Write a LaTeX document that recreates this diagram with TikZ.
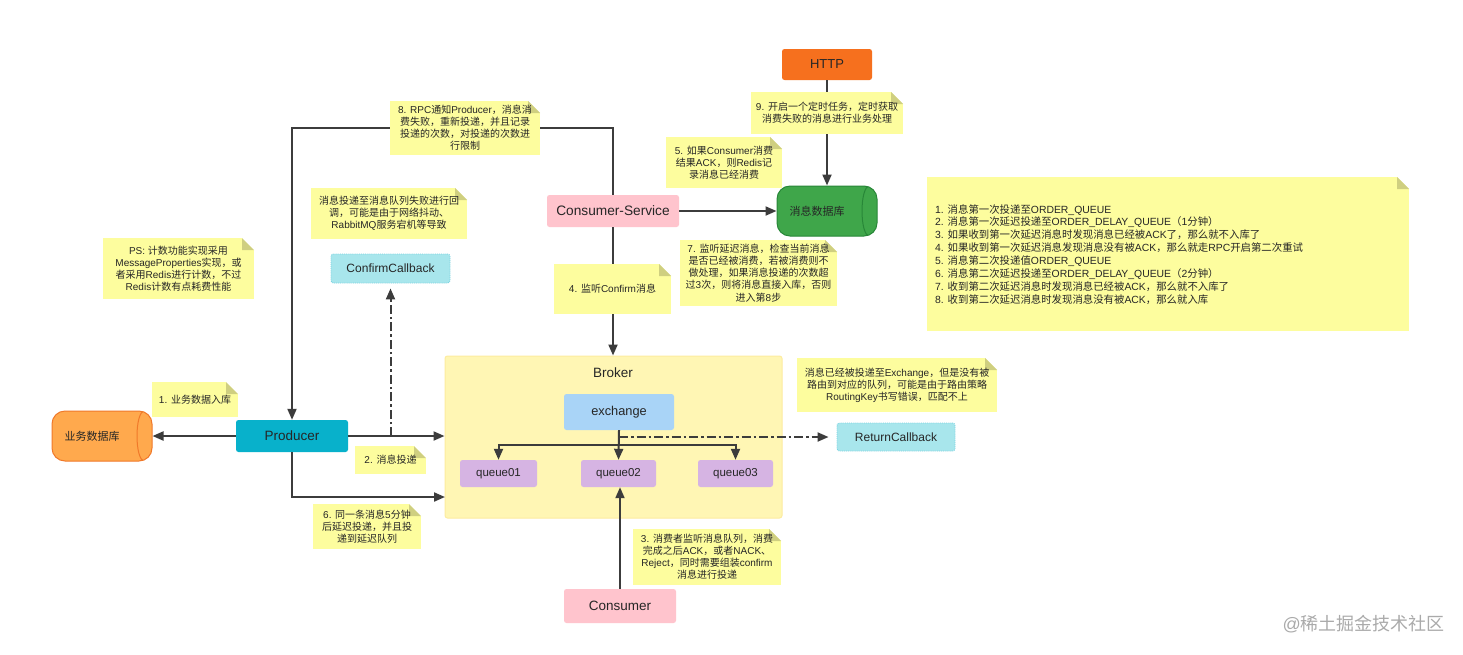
\documentclass[tikz,border=0pt]{standalone}
\usepackage{fontspec}
\setmainfont{Liberation Sans}
\newfontfamily\cjkf{Noto Sans CJK SC}
\usetikzlibrary{arrows.meta,calc}
% automatic font switching between Latin and CJK
\newXeTeXintercharclass\cjkclass
\makeatletter
\count@="3000 \loop\XeTeXcharclass\count@=\cjkclass \ifnum\count@<"30FF \advance\count@ 1 \repeat
\count@="4E00 \loop\XeTeXcharclass\count@=\cjkclass \ifnum\count@<"9FFF \advance\count@ 1 \repeat
\count@="FF00 \loop\XeTeXcharclass\count@=\cjkclass \ifnum\count@<"FFEF \advance\count@ 1 \repeat
\makeatother
\XeTeXinterchartoks 0 \cjkclass={\cjkf}
\XeTeXinterchartoks 4095 \cjkclass={\cjkf}
\XeTeXinterchartoks \cjkclass 0={\rmfamily}
\XeTeXinterchartoks \cjkclass 4095={\rmfamily}
\XeTeXinterchartokenstate=1
\definecolor{ink}{HTML}{3C3C3C}
\definecolor{txt}{HTML}{262626}
\definecolor{notebg}{HTML}{FDFD9E}
\definecolor{foldc}{HTML}{CFCF80}
\definecolor{bizedge}{RGB}{240,121,42}
\definecolor{bizfill}{RGB}{255,169,77}
\definecolor{msgedge}{RGB}{40,135,56}
\definecolor{msgfill}{RGB}{63,166,74}
\definecolor{brokerfill}{RGB}{255,246,180}
\definecolor{brokeredge}{RGB}{253,236,160}
\definecolor{httpfill}{RGB}{246,112,30}
\definecolor{pinkfill}{RGB}{255,196,205}
\definecolor{prodfill}{RGB}{8,177,203}
\definecolor{exfill}{RGB}{169,212,247}
\definecolor{queuefill}{RGB}{214,180,227}
\definecolor{cbfill}{RGB}{168,230,236}
\definecolor{cbedge}{RGB}{125,212,226}
\definecolor{markc}{RGB}{170,170,170}
\tikzset{
  conn/.style={draw=ink,line width=2pt},
  arr/.style={conn,-{Triangle[length=11pt,width=9pt]}},
  dashdot/.style={arr,dash pattern=on 9pt off 3pt on 2.5pt off 3pt},
  foldcorner/.style={path picture={
    \fill[white] ($(path picture bounding box.north east)+(-12,0)$) -- (path picture bounding box.north east) -- ($(path picture bounding box.north east)+(0,12)$) -- cycle;
    \fill[foldc] ($(path picture bounding box.north east)+(-12,0)$) -- ($(path picture bounding box.north east)+(-12,12)$) -- ($(path picture bounding box.north east)+(0,12)$) -- cycle;
  }},
  note/.style={fill=notebg,foldcorner,text=txt,inner sep=0pt,align=center,font=\fontsize{10}{12.1}\selectfont},
  bx/.style={rectangle,rounded corners=2.5pt,inner sep=0pt,align=center,text=txt,font=\fontsize{13.5}{15}\selectfont},
  callback/.style={bx,fill=cbfill,draw=cbedge,densely dotted,line width=.9pt,font=\fontsize{12}{14}\selectfont},
  queue/.style={bx,fill=queuefill,font=\fontsize{11.5}{13}\selectfont},
  dbcyl/.style={rectangle,rounded corners=13pt,draw=#1,line width=1pt,inner sep=0pt,minimum width=100pt,minimum height=50pt,text=txt,font=\fontsize{11}{13}\selectfont,
    path picture={\draw[#1,line width=1pt] ($(path picture bounding box.north east)+(-7.5,0)$) .. controls +(-10,0) and +(-10,0) .. ($(path picture bounding box.south east)+(-7.5,0)$);}},
}
\newcommand\notebox[6]{%
  \node[note,minimum width={(#4-#2)*1pt},minimum height={(#5-#3)*1pt}] (#1) at ({(#2+#4)/2},{(#3+#5)/2}) {#6};
}
\newcommand\boxnode[7][]{%
  \node[bx,#1,minimum width={(#5-#3)*1pt},minimum height={(#6-#4)*1pt}] (#2) at ({(#3+#5)/2},{(#4+#6)/2}) {#7};
}
\begin{document}
\begin{tikzpicture}[x=1pt,y=-1pt]
\useasboundingbox[fill=white] (0,0) rectangle (1463,654);
% main nodes
\boxnode[fill=brokerfill,draw=brokeredge,line width=1pt]{broker}{445}{356}{782}{518}{}
\node[text=txt,font=\fontsize{13.5}{15}\selectfont] (brokerlabel) at (613,373) {Broker};
\boxnode[fill=httpfill,font=\fontsize{13}{15}\selectfont]{http}{782}{49}{872}{80}{HTTP}
\boxnode[fill=pinkfill,font=\fontsize{13.7}{15}\selectfont]{cs}{547}{195}{679}{227}{Consumer-Service}
\boxnode[fill=prodfill]{prod}{236}{420}{348}{452}{Producer}
\boxnode[fill=pinkfill]{cons}{564}{589}{676}{623}{Consumer}
\boxnode[fill=exfill,font=\fontsize{12.8}{15}\selectfont]{ex}{564}{394}{674}{430}{exchange}
\boxnode[queue]{qa}{460}{460}{537}{487}{queue01}
\boxnode[queue]{qb}{581}{460}{656}{487}{queue02}
\boxnode[queue]{qc}{698}{460}{773}{487}{queue03}
\boxnode[callback]{cc}{331}{254}{450}{283}{ConfirmCallback}
\boxnode[callback]{rc}{837}{423}{955}{451}{ReturnCallback}
\node[dbcyl=bizedge,fill=bizfill] (bizdb) at (102,436) {业务数据库\hspace*{20pt}};
\node[dbcyl=msgedge,fill=msgfill] (msgdb) at (827,211) {消息数据库\hspace*{20pt}};
% free points of the connectors
\coordinate (toprow) at (292,128);
\coordinate (delay) at (445,497);
\coordinate (bus) at (619,445);
% connectors
\draw[arr] (cs.north) -- (cs.north |- toprow) -- (prod.north |- toprow) -- (prod.north);
\draw[arr] (cs.south) -- (cs.south |- broker.north);
\draw[arr] (cs.east) -- (msgdb.west);
\draw[arr] (http.south) -- (msgdb.north);
\draw[arr] (prod.west) -- (bizdb.east);
\draw[arr] (prod.east) -- (prod.east -| broker.west);
\draw[arr] (prod.south) |- (delay);
\draw[dashdot,shorten >=5pt] (cc.south |- prod.east) -- (cc.south);
\draw[arr] (ex.south) -- (qb.north);
\draw[arr] (bus) -| (qa.north);
\draw[arr] (bus) -| (qc.north);
\draw[dashdot,shorten >=8pt] (ex.south |- rc.west) -- (rc.west);
\draw[arr] (cons.north) -- (cons.north |- qb.south);
% notes
\notebox{nps}{103}{238}{254}{299}{PS: 计数功能实现采用\\MessageProperties实现，或\\者采用Redis进行计数，不过\\Redis计数有点耗费性能}
\notebox{nconf}{311}{188}{467}{239}{消息投递至消息队列失败进行回\\调，可能是由于网络抖动、\\RabbitMQ服务宕机等导致}
\notebox{none}{152}{382}{238}{417}{1. 业务数据入库}
\notebox{ntwo}{355}{446}{426}{474}{2. 消息投递}
\notebox{nsix}{313}{504}{421}{549}{6. 同一条消息5分钟\\后延迟投递，并且投\\递到延迟队列}
\notebox{neight}{390}{101}{540}{155}{8. RPC通知Producer，消息消\\费失败，重新投递，并且记录\\投递的次数，对投递的次数进\\行限制}
\notebox{nnine}{751}{92}{903}{134}{9. 开启一个定时任务，定时获取\\消费失败的消息进行业务处理}
\notebox{nfive}{666}{137}{782}{188}{5. 如果Consumer消费\\结果ACK，则Redis记\\录消息已经消费}
\notebox{nseven}{680}{240}{837}{306}{7. 监听延迟消息，检查当前消息\\是否已经被消费，若被消费则不\\做处理，如果消息投递的次数超\\过3次，则将消息直接入库，否则\\进入第8步}
\notebox{nfour}{554}{264}{671}{314}{4. 监听Confirm消息}
\notebox{nret}{797}{358}{997}{412}{消息已经被投递至Exchange，但是没有被\\路由到对应的队列，可能是由于路由策略\\RoutingKey书写错误，匹配不上}
\notebox{nthree}{633}{529}{781}{585}{3. 消费者监听消息队列，消费\\完成之后ACK，或者NACK、\\Reject，同时需要组装confirm\\消息进行投递}
\notebox{nlist}{927}{177}{1409}{331}{}
\node[anchor=north west,inner sep=0pt,align=left,text=txt,font=\fontsize{10.4}{12.9}\selectfont] (nlisttext) at (935,204) {1. 消息第一次投递至ORDER\_QUEUE\\2. 消息第一次延迟投递至ORDER\_DELAY\_QUEUE（1分钟）\\3. 如果收到第一次延迟消息时发现消息已经被ACK了，那么就不入库了\\4. 如果收到第一次延迟消息发现消息没有被ACK，那么就走RPC开启第二次重试\\5. 消息第二次投递值ORDER\_QUEUE\\6. 消息第二次延迟投递至ORDER\_DELAY\_QUEUE（2分钟）\\7. 收到第二次延迟消息时发现消息已经被ACK，那么就不入库了\\8. 收到第二次延迟消息时发现消息没有被ACK，那么就入库};
\node[anchor=east,inner sep=0pt,text=markc,font=\fontsize{18}{20}\selectfont] (mark) at (1445,624) {@稀土掘金技术社区};
\end{tikzpicture}
\end{document}
